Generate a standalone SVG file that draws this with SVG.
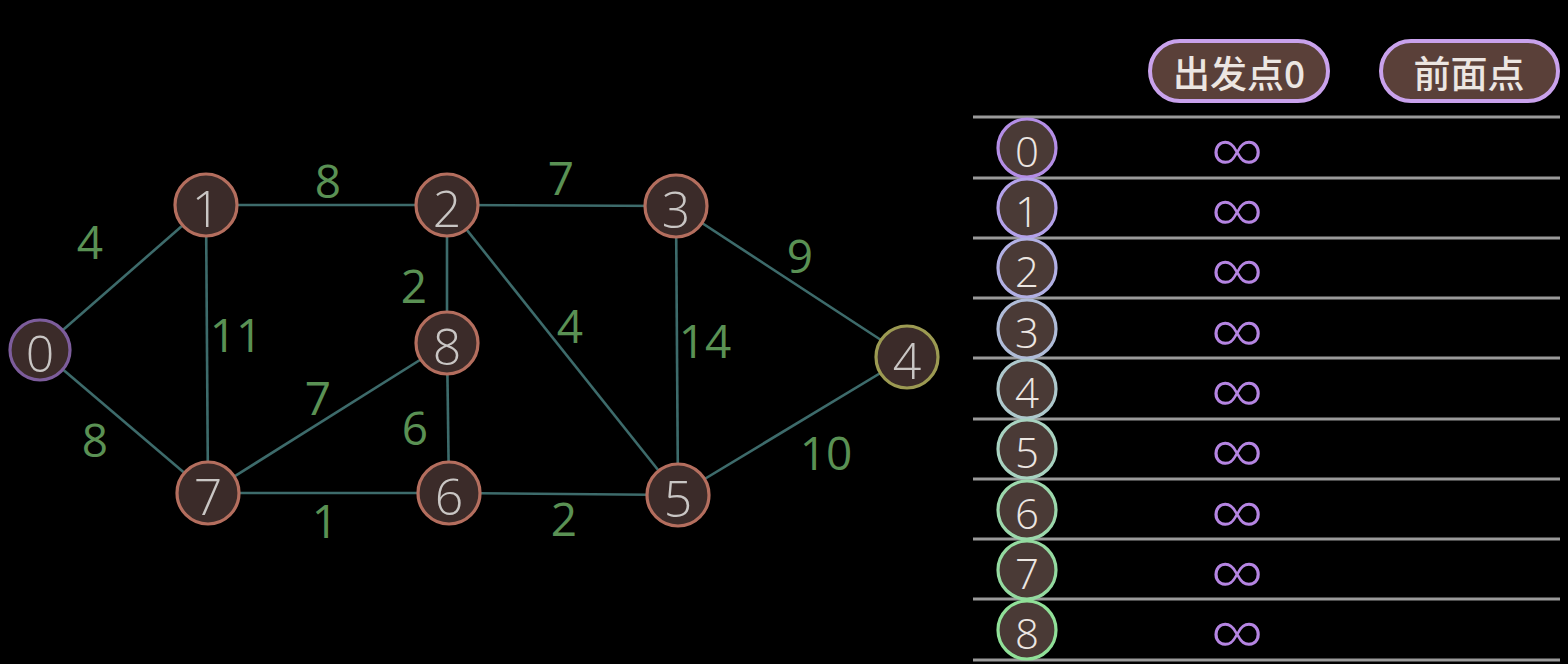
<svg xmlns="http://www.w3.org/2000/svg" width="1568" height="664" viewBox="0 0 1568 664">
<style>
.edge{stroke:#3d6b6b;stroke-width:2.6;fill:none}
.node circle{fill:#3b2b29;stroke-width:3.2}
.nt{font-family:"Open Sans","Noto Sans",sans-serif;font-weight:300;font-size:50px;fill:#c9c6c4;text-anchor:middle;dominant-baseline:central}
.w{font-family:"Open Sans","Noto Sans",sans-serif;font-weight:400;font-size:46px;fill:#5a9154;text-anchor:middle;dominant-baseline:central}
.rule{stroke:#9a9a9a;stroke-width:3}
.row circle{fill:#4a3a36;stroke-width:3.2}
.rt{font-family:"Open Sans","Noto Sans",sans-serif;font-weight:300;font-size:42px;fill:#ece6e2;text-anchor:middle;dominant-baseline:central}
.inf{font-family:"Open Sans","DejaVu Sans",sans-serif;font-weight:300;font-size:76px;fill:#b585e2;text-anchor:middle;dominant-baseline:central}
.pill rect{fill:#5a4039;stroke:#c9a2ec;stroke-width:4}
.pt{font-family:"Noto Sans CJK SC","Noto Sans",sans-serif;font-weight:500;font-size:37px;fill:#ece6e2;text-anchor:middle;dominant-baseline:central}
</style>
<rect width="1568" height="664" fill="#000"/>
<g id="connectors">
<line class="edge" x1="40" y1="350" x2="206" y2="205"/>
<line class="edge" x1="40" y1="350" x2="208" y2="493"/>
<line class="edge" x1="206" y1="205" x2="447" y2="205"/>
<line class="edge" x1="206" y1="205" x2="208" y2="493"/>
<line class="edge" x1="447" y1="205" x2="676" y2="206"/>
<line class="edge" x1="447" y1="205" x2="447" y2="343"/>
<line class="edge" x1="447" y1="205" x2="678" y2="495"/>
<line class="edge" x1="676" y1="206" x2="907" y2="357"/>
<line class="edge" x1="676" y1="206" x2="678" y2="495"/>
<line class="edge" x1="907" y1="357" x2="678" y2="495"/>
<line class="edge" x1="447" y1="343" x2="208" y2="493"/>
<line class="edge" x1="447" y1="343" x2="449" y2="493"/>
<line class="edge" x1="208" y1="493" x2="449" y2="493"/>
<line class="edge" x1="449" y1="493" x2="678" y2="495"/>
</g>
<g id="weights">
<text class="w" x="90" y="241">4</text>
<text class="w" x="95" y="439">8</text>
<text class="w" x="328" y="180">8</text>
<text class="w" x="236" y="334">11</text>
<text class="w" x="561" y="177">7</text>
<text class="w" x="414" y="285">2</text>
<text class="w" x="570" y="325">4</text>
<text class="w" x="800" y="255">9</text>
<text class="w" x="705" y="340">14</text>
<text class="w" x="826" y="452">10</text>
<text class="w" x="318" y="397">7</text>
<text class="w" x="415" y="427">6</text>
<text class="w" x="325" y="520">1</text>
<text class="w" x="564" y="518">2</text>
</g>
<g id="node0" class="node"><circle cx="40" cy="350" r="30" stroke="#7d5d9c"/><text class="nt" x="40" y="353">0</text></g>
<g id="node1" class="node"><circle cx="206" cy="205" r="31" stroke="#b46e5e"/><text class="nt" x="206" y="208">1</text></g>
<g id="node2" class="node"><circle cx="447" cy="205" r="31" stroke="#b46e5e"/><text class="nt" x="447" y="208">2</text></g>
<g id="node3" class="node"><circle cx="676" cy="206" r="31" stroke="#b46e5e"/><text class="nt" x="676" y="209">3</text></g>
<g id="node4" class="node"><circle cx="907" cy="357" r="31" stroke="#9c9a52"/><text class="nt" x="907" y="360">4</text></g>
<g id="node5" class="node"><circle cx="678" cy="495" r="31" stroke="#b46e5e"/><text class="nt" x="678" y="498">5</text></g>
<g id="node6" class="node"><circle cx="449" cy="493" r="31" stroke="#b46e5e"/><text class="nt" x="449" y="496">6</text></g>
<g id="node7" class="node"><circle cx="208" cy="493" r="31" stroke="#b46e5e"/><text class="nt" x="208" y="496">7</text></g>
<g id="node8" class="node"><circle cx="447" cy="343" r="31" stroke="#b46e5e"/><text class="nt" x="447" y="346">8</text></g>
<g id="header">
<g class="pill"><rect x="1150" y="41" width="178" height="60" rx="30"/><text class="pt" x="1239" y="72">出发点0</text></g>
<g class="pill"><rect x="1381" y="41" width="177" height="60" rx="30"/><text class="pt" x="1469" y="72">前面点</text></g>
</g>
<g id="table">
<line class="rule" x1="973" y1="117" x2="1560" y2="117"/>
<line class="rule" x1="973" y1="178" x2="1560" y2="178"/>
<line class="rule" x1="973" y1="238" x2="1560" y2="238"/>
<line class="rule" x1="973" y1="298" x2="1560" y2="298"/>
<line class="rule" x1="973" y1="358" x2="1560" y2="358"/>
<line class="rule" x1="973" y1="419" x2="1560" y2="419"/>
<line class="rule" x1="973" y1="479" x2="1560" y2="479"/>
<line class="rule" x1="973" y1="539" x2="1560" y2="539"/>
<line class="rule" x1="973" y1="599" x2="1560" y2="599"/>
<line class="rule" x1="973" y1="660" x2="1560" y2="660"/>
</g>
<g id="row0" class="row"><circle cx="1027" cy="148" r="29" stroke="#b48ee6"/><text class="rt" x="1027" y="150">0</text><text class="inf" x="1237" y="149">∞</text></g>
<g id="row1" class="row"><circle cx="1027" cy="208" r="29" stroke="#b4a2ea"/><text class="rt" x="1027" y="210">1</text><text class="inf" x="1237" y="209">∞</text></g>
<g id="row2" class="row"><circle cx="1027" cy="268" r="29" stroke="#b2b0e4"/><text class="rt" x="1027" y="270">2</text><text class="inf" x="1237" y="269">∞</text></g>
<g id="row3" class="row"><circle cx="1027" cy="329" r="29" stroke="#b0bcd8"/><text class="rt" x="1027" y="331">3</text><text class="inf" x="1237" y="330">∞</text></g>
<g id="row4" class="row"><circle cx="1027" cy="389" r="29" stroke="#aec8cc"/><text class="rt" x="1027" y="391">4</text><text class="inf" x="1237" y="390">∞</text></g>
<g id="row5" class="row"><circle cx="1027" cy="449" r="29" stroke="#a8d2c0"/><text class="rt" x="1027" y="451">5</text><text class="inf" x="1237" y="450">∞</text></g>
<g id="row6" class="row"><circle cx="1027" cy="510" r="29" stroke="#9cd8ac"/><text class="rt" x="1027" y="512">6</text><text class="inf" x="1237" y="511">∞</text></g>
<g id="row7" class="row"><circle cx="1027" cy="570" r="29" stroke="#94daa0"/><text class="rt" x="1027" y="572">7</text><text class="inf" x="1237" y="571">∞</text></g>
<g id="row8" class="row"><circle cx="1027" cy="630" r="29" stroke="#90e098"/><text class="rt" x="1027" y="632">8</text><text class="inf" x="1237" y="631">∞</text></g>
</svg>
